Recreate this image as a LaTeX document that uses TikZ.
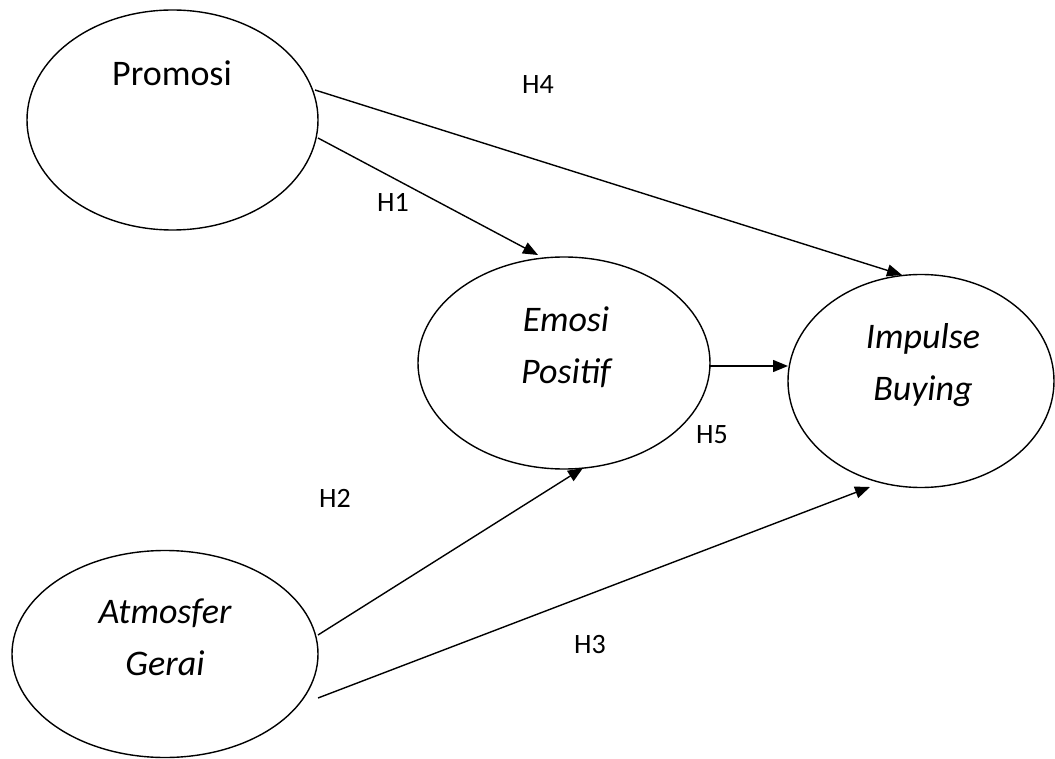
\documentclass[tikz,border=0pt]{standalone}
\usepackage{fontspec}
\setmainfont{Carlito}
\usetikzlibrary{shapes.geometric,arrows.meta,calc}
\begin{document}
\begin{tikzpicture}[x=1pt,y=-1pt,
  latent/.style={draw,ellipse,line width=1.4pt,inner sep=0pt},
  vartext/.style={anchor=base,align=center,inner sep=0pt,font=\fontsize{36}{52}\selectfont},
  hyp/.style={inner sep=0pt,font=\fontsize{28}{32}\selectfont},
  path/.style={line width=1.4pt,-{Triangle[length=15pt,width=12pt]}}]
\useasboundingbox (0,0) rectangle (1055,759);
\node[latent,minimum width=291pt,minimum height=220pt] (P) at (172.5,120) {};
\node[latent,minimum width=292pt,minimum height=212pt] (E) at (564,363) {};
\node[latent,minimum width=266pt,minimum height=213pt] (I) at (921,381) {};
\node[latent,minimum width=306pt,minimum height=207pt] (A) at (165,654) {};
\node[vartext] (tP) at (172,86) {Promosi};
\node[vartext,font=\fontsize{36}{52}\selectfont\itshape] (tE) at (566,383) {Emosi\\Positif};
\node[vartext,font=\fontsize{36}{52}\selectfont\itshape] (tI) at (923,400) {Impulse\\Buying};
\node[vartext,font=\fontsize{36}{52}\selectfont\itshape] (tA) at (165,675) {Atmosfer\\Gerai};
\draw[path] ($(P.center)+(142.5,-30)$) -- ($(I.center)+(-19,-106)$);
\draw[path] ($(P.center)+(145.5,18)$) -- ($(E.center)+(-26,-108)$);
\draw[path] ($(E.center)+(146,3)$) -- ($(I.center)+(-133,-15)$);
\draw[path] ($(A.center)+(153,-19)$) -- ($(E.center)+(19,105)$);
\draw[path] ($(A.center)+(153,44)$) -- ($(I.center)+(-51,106)$);
\node[hyp] (h4) at (538,85) {H4};
\node[hyp] (h1) at (393,202) {H1};
\node[hyp] (h5) at (712,435) {H5};
\node[hyp] (h2) at (335,498) {H2};
\node[hyp] (h3) at (590,645) {H3};
\end{tikzpicture}
\end{document}
